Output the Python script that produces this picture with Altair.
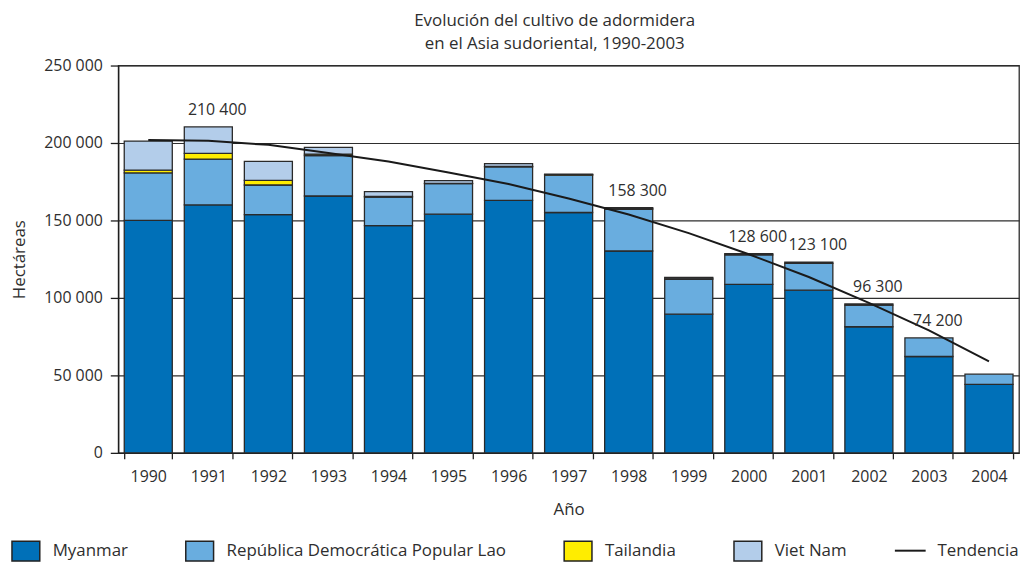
import altair as alt
import pandas as pd

FONT = "Open Sans"
TXT = "#2e2e2e"

years = [str(y) for y in range(1990, 2005)]
series = ["Myanmar", "República Democrática Popular Lao", "Tailandia", "Viet Nam"]
colors = ["#0070b8", "#69addf", "#ffed00", "#b3cdea"]

myanmar = [150100, 160000, 153700, 165800, 146600, 154070, 163000, 155150, 130300, 89500, 108700, 105000, 81400, 62200, 44200]
lao = [30580, 29625, 19190, 26040, 18520, 19650, 21601, 24082, 26837, 22543, 19052, 17255, 14000, 12000, 6600]
tailandia = [1782, 3727, 3016, 998, 478, 168, 368, 352, 716, 702, 890, 820, 750, 0, 0]
vietnam = [18760, 17000, 12199, 4268, 3066, 1880, 1743, 340, 442, 442, 0, 0, 0, 0, 0]

trend = [202000, 201400, 198800, 193500, 188000, 181000, 173500, 164200, 153800, 141800, 128200, 113500, 96800, 79000, 59000]

label_years = ["1991", "1998", "2000", "2001", "2002", "2003"]
label_values = [210400, 158300, 128600, 123100, 96300, 74200]
label_texts = ["210 400", "158 300", "128 600", "123 100", "96 300", "74 200"]

y_ticks = [0, 50000, 100000, 150000, 200000, 250000]

rows = []
for i, (name, vals) in enumerate(zip(series, [myanmar, lao, tailandia, vietnam])):
    for yr, v in zip(years, vals):
        if v > 0:
            rows.append({"year": yr, "series": name, "value": v, "idx": i})
bars_df = pd.DataFrame(rows)
trend_df = pd.DataFrame({"year": years, "value": trend, "name": ["Tendencia"] * len(years)})
lab_df = pd.DataFrame({"year": label_years, "value": label_values, "text": label_texts})

x_enc = alt.X(
    "year:O",
    title="Año",
    sort=years,
    scale=alt.Scale(domain=years, paddingInner=0.2, paddingOuter=0.1),
    axis=alt.Axis(
        labelAngle=0, tickBand="extent", tickSize=6, labelPadding=10,
        labelFontSize=16, titleFontSize=17, titlePadding=17, grid=False,
    ),
)

def y_enc(stack=None):
    return alt.Y(
        "value:Q",
        title="Hectáreas",
        stack=stack,
        scale=alt.Scale(domain=[0, 250000], nice=False),
        axis=alt.Axis(
            values=y_ticks,
            labelExpr="replace(format(datum.value, ','), ',', ' ')",
            tickSize=8, labelPadding=8, labelFontSize=16,
            titleFontSize=17, titlePadding=15, grid=True,
        ),
    )

bars = alt.Chart(bars_df).mark_bar(stroke="#2a2a2a", strokeWidth=1.3).encode(
    x=x_enc,
    y=y_enc("zero"),
    fill=alt.Fill(
        "series:N",
        scale=alt.Scale(domain=series, range=colors),
        legend=alt.Legend(
            orient="none", legendX=-104, legendY=478, direction="horizontal",
            title=None, padding=0,
            symbolType="M-1.4,-1H1.4V1H-1.4Z", symbolSize=400,
            symbolStrokeColor="#222", symbolStrokeWidth=1.5, symbolOpacity=1,
            labelFontSize=17, labelFont=FONT, labelColor=TXT,
            labelOffset=16, columnPadding=55, labelLimit=400,
        ),
    ),
    order=alt.Order("idx:Q", sort="ascending"),
)

line = alt.Chart(trend_df).mark_line(strokeWidth=2).encode(
    x=x_enc,
    y=y_enc(),
    stroke=alt.Stroke(
        "name:N",
        scale=alt.Scale(domain=["Tendencia"], range=["#1a1a1a"]),
        legend=alt.Legend(
            orient="none", legendX=781, legendY=472, direction="horizontal",
            title=None, padding=0, symbolType="stroke", symbolSize=961,
            symbolStrokeWidth=2, labelFontSize=17, labelFont=FONT,
            labelColor=TXT, labelOffset=11,
        ),
    ),
)

labels = alt.Chart(lab_df).mark_text(
    dx=9, dy=-9, baseline="bottom", align="center", fontSize=16, font=FONT, color=TXT
).encode(x=x_enc, y=y_enc(), text="text:N")

chart = alt.layer(bars, line, labels).properties(
    width=907,
    height=390,
    autosize=alt.AutoSizeParams(type="none"),
    padding={"left": 111, "top": 56, "right": 2, "bottom": 112},
    title=alt.Title(
        ["Evolución del cultivo de adormidera", " en el Asia sudoriental, 1990-2003"],
        fontSize=17, font=FONT, fontWeight="normal", color=TXT,
        anchor="middle", dx=-14, offset=5, lineHeight=23,
    ),
).configure(
    font=FONT, background="white",
).configure_view(
    stroke="#2a2a2a", strokeWidth=1.3,
).configure_axis(
    labelFont=FONT, titleFont=FONT, labelColor=TXT, titleColor=TXT,
    titleFontWeight="normal", domainColor="#1e1e1e", domainWidth=1.3,
    tickColor="#1e1e1e", tickWidth=1.3, gridColor="#2e2e2e", gridWidth=1.2,
)

chart.save("out.html", embed_options={"renderer": "svg", "actions": False})
